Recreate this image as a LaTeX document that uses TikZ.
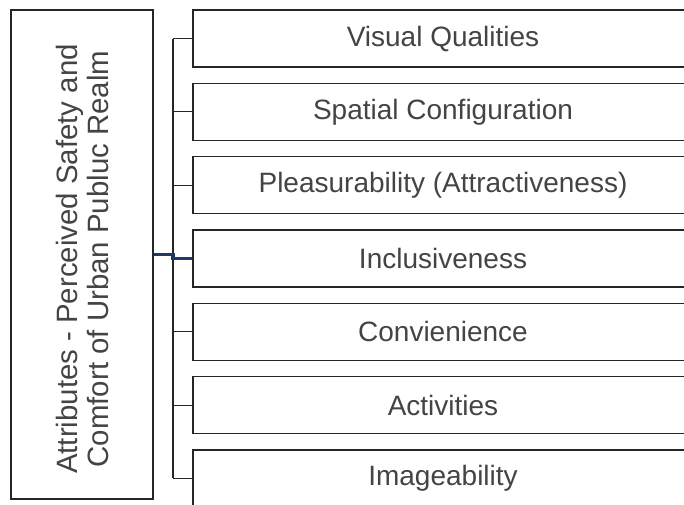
\documentclass[tikz,border=0pt]{standalone}
\usepackage{fontspec}
\setmainfont{Liberation Sans}
\usepackage{tikz}
\usetikzlibrary{calc}
\usepackage{xcolor}

\definecolor{txtgray}{RGB}{68,68,68}
\definecolor{navy}{RGB}{31,56,100}

\tikzset{
	box/.style={draw=black!85, line width=1.3pt, fill=white, inner sep=0pt,
		text=txtgray, font=\fontsize{28}{30}\selectfont},
	item/.style={box, minimum width=500pt, minimum height=57pt},
	bracket/.style={draw=black!85, line width=1.2pt},
	link/.style={draw=navy, line width=3.2pt}
}

\begin{document}
\begin{tikzpicture}[x=1pt,y=-1pt]
		
		\useasboundingbox (0,0) rectangle (684,504);
		\clip (0,0) rectangle (684,504);
		
		% Main attribute box, its label set upright along it
		\node[box, minimum width=142pt, minimum height=489pt] (attr) at (82,254.5) {};
		\node[rotate=90, align=center, text=txtgray, inner sep=0pt,
			font=\fontsize{29.4}{31}\selectfont] (attrtext) at (82,259)
			{Attributes - Perceived Safety and\\Comfort of Urban Publuc Realm};
		
		% Seven attributes
		\foreach \i/\t in {1/Visual Qualities, 2/Spatial Configuration,
			3/Pleasurability (Attractiveness), 4/Inclusiveness, 5/Convienience,
			6/Activities, 7/Imageability} {
			\node[item] (q\i) at (443,{38.5+(\i-1)*73.33}) {\t};
		}
		
		% Bracket joining the attributes
		\coordinate (spine) at (173,0);
		\draw[bracket] (q1.west -| spine) -- (q7.west -| spine);
		\foreach \i in {1,...,7} {
			\draw[bracket] (q\i.west) -- (q\i.west -| spine);
		}
		
		\draw[link] (attr.east) -- (attr.east -| spine) -- (q4.west -| spine) -- (q4.west);
		
	\end{tikzpicture}
\end{document}
